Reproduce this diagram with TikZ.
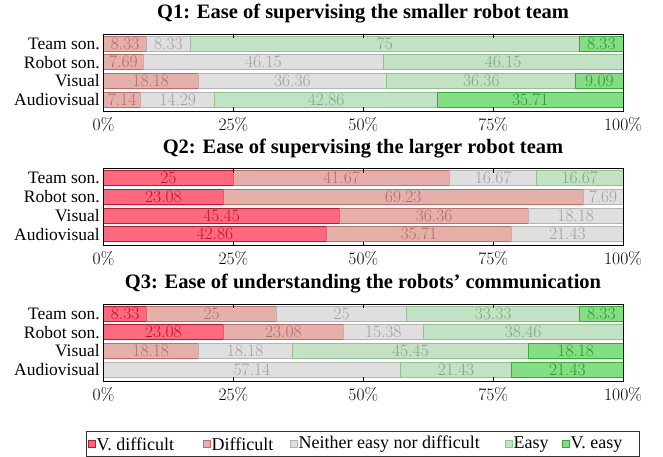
\documentclass[tikz,border=0pt]{standalone}
\usepackage{fontspec}
\newfontfamily\tms{Liberation Serif}
\definecolor{vdfill}{RGB}{255,105,128}
\definecolor{vdline}{RGB}{205,20,45}
\definecolor{vdtext}{RGB}{190,20,40}
\definecolor{dfill}{RGB}{230,176,170}
\definecolor{dline}{RGB}{190,110,105}
\definecolor{dtext}{RGB}{175,110,105}
\definecolor{nfill}{RGB}{223,223,223}
\definecolor{nline}{RGB}{180,180,180}
\definecolor{ntext}{RGB}{160,160,160}
\definecolor{efill}{RGB}{195,226,195}
\definecolor{eline}{RGB}{145,195,145}
\definecolor{etext}{RGB}{130,165,130}
\definecolor{vefill}{RGB}{132,222,132}
\definecolor{veline}{RGB}{50,175,50}
\definecolor{vetext}{RGB}{45,150,45}
\tikzset{
  seg/.style={inner sep=0pt, outer sep=0pt, minimum height=15pt, line width=0.8pt,
    font=\fontsize{17.5}{20}\selectfont},
  rowlab/.style={anchor=east, inner sep=0pt, font=\fontsize{17.5}{20}\selectfont\tms},
  ticklab/.style={inner sep=0pt, font=\fontsize{17.5}{20}\selectfont},
  ttl/.style={inner sep=0pt, font=\fontsize{20.5}{24}\selectfont\tms\bfseries},
  legtext/.style={anchor=west, inner sep=0pt, font=\fontsize{18}{20}\selectfont\tms},
  legmark/.style={inner sep=0pt, minimum width=7.5pt, minimum height=6.5pt, line width=0.8pt},
  axisbox/.style={draw=black, line width=0.8pt},
}
\newcommand\segrow[4]{%
  \node[rowlab] (#1l) at (100,#2) {#3};
  \xdef\acc{0}%
  \foreach \k/\v [count=\i] in {#4} {
    \pgfmathsetmacro\xa{103.5+\acc*5.195}
    \pgfmathsetmacro\ww{\v*5.195}
    \node[seg, fill=\k fill, draw=\k line, text=\k text, minimum width=\ww pt, anchor=west] (#1s\i) at (\xa,#2) {\v};
    \pgfmathsetmacro\nacc{\acc+\v}
    \xdef\acc{\nacc}
  }%
}
\newcommand\panelframe[3]{% #1 name, #2 top, #3 title
  \node[ttl] (#1t) at (363,#2-20) {#3};
  \draw[axisbox] (103.5,#2) rectangle (623,#2+77);
  \foreach \j in {1,2,3} {
    \draw[line width=0.6pt] (103.5+129.875*\j,#2) -- ++(0,4);
    \draw[line width=0.6pt] (103.5+129.875*\j,#2+77) -- ++(0,-4);
  }
  \foreach \j/\t in {0/0\%,1/25\%,2/50\%,3/75\%,4/100\%} {
    \node[ticklab] (#1x\j) at (103.5+129.875*\j,#2+90) {\t};
  }
}
\begin{document}
\begin{tikzpicture}[x=1pt,y=-1pt]
\useasboundingbox (0,0) rectangle (663,457);
% Q1
\segrow{aa}{43.5}{Team son.}{d/8.33,n/8.33,e/75,ve/8.33}
\segrow{ab}{62.2}{Robot son.}{d/7.69,n/46.15,e/46.15}
\segrow{ac}{80.9}{Visual}{d/18.18,n/36.36,e/36.36,ve/9.09}
\segrow{ad}{99.6}{Audiovisual}{d/7.14,n/14.29,e/42.86,ve/35.71}
\panelframe{qa}{34}{Q1: Ease of supervising the smaller robot team}
% Q2
\segrow{ba}{178}{Team son.}{vd/25,d/41.67,n/16.67,e/16.67}
\segrow{bb}{196.7}{Robot son.}{vd/23.08,d/69.23,n/7.69}
\segrow{bc}{215.4}{Visual}{vd/45.45,d/36.36,n/18.18}
\segrow{bd}{234.1}{Audiovisual}{vd/42.86,d/35.71,n/21.43}
\panelframe{qb}{168.5}{Q2: Ease of supervising the larger robot team}
% Q3
\segrow{ca}{313.5}{Team son.}{vd/8.33,d/25,n/25,e/33.33,ve/8.33}
\segrow{cb}{332.2}{Robot son.}{vd/23.08,d/23.08,n/15.38,e/38.46}
\segrow{cc}{350.9}{Visual}{d/18.18,n/18.18,e/45.45,ve/18.18}
\segrow{cd}{369.6}{Audiovisual}{n/57.14,e/21.43,ve/21.43}
\panelframe{qc}{304}{Q3: Ease of understanding the robots’ communication}
% legend
\draw[line width=0.8pt, draw=black!80] (86,431) rectangle (639,456);
\foreach \k/\mx/\tx/\t in {vd/92/96.5/V. difficult, d/207/211.5/Difficult, n/294/298.5/Neither easy nor difficult, e/509/513.5/Easy, ve/566/570.5/V. easy} {
  \node[legmark, fill=\k fill, draw=\k line] (lm\k) at (\mx,444) {};
  \node[legtext] (lt\k) at (\tx,444.5) {\t};
}
\end{tikzpicture}
\end{document}
